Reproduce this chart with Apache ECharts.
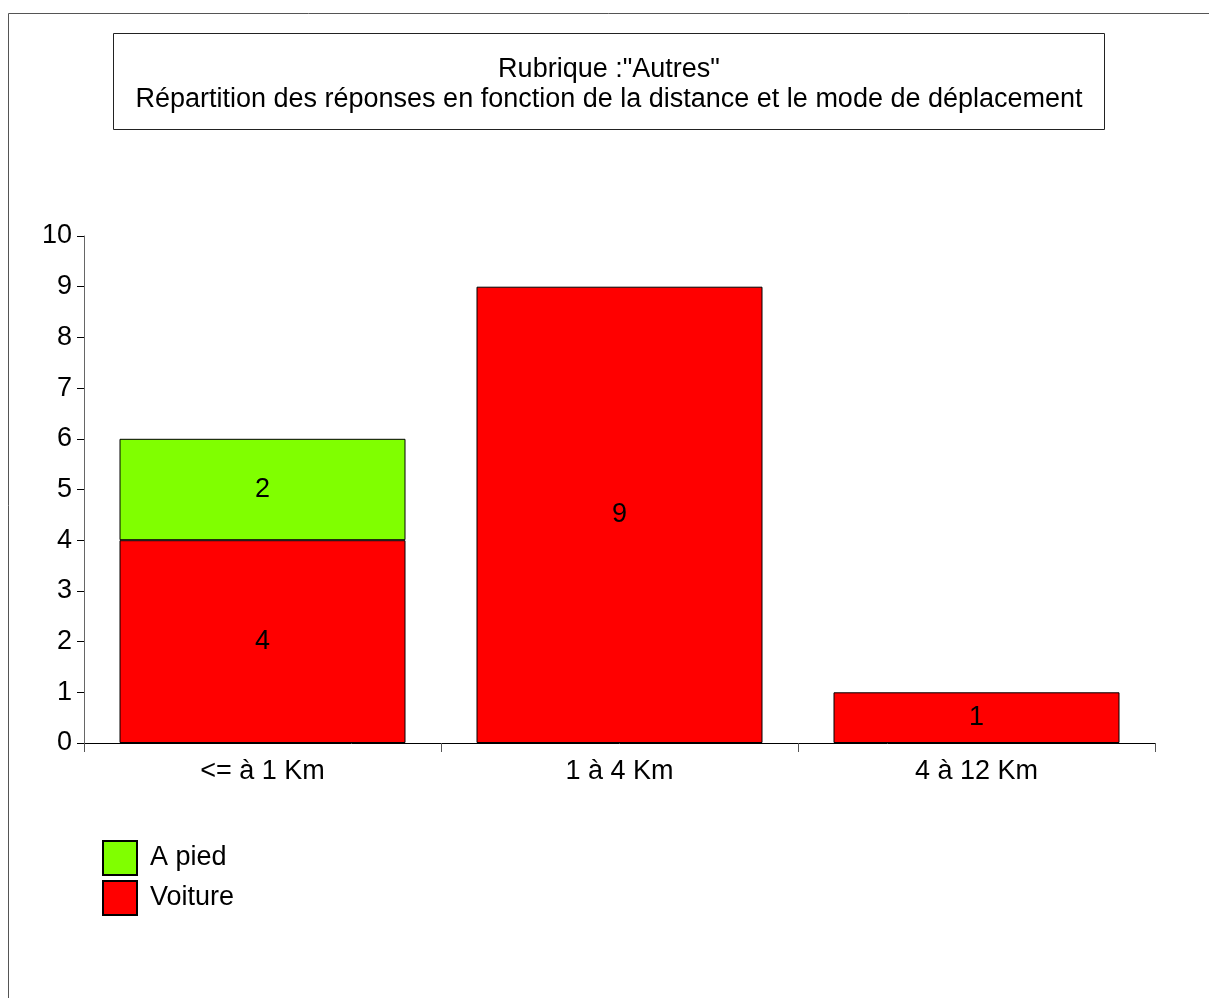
<!DOCTYPE html>
<html>
<head>
<meta charset="utf-8">
<script src="https://cdn.jsdelivr.net/npm/echarts@6/dist/echarts.min.js"></script>
<style>
html,body{margin:0;padding:0;background:#fff;}
#chart{width:1209px;height:998px;}
</style>
</head>
<body>
<div id="chart"></div>
<script>
const categories = ['<= à 1 Km', '1 à 4 Km', '4 à 12 Km'];
const voiture = [4, 9, 1];
const aPied = [2, null, null];
const yTicks = { min: 0, max: 10, interval: 1 };
const titleLines = ['Rubrique :"Autres"', 'Répartition des réponses en fonction de la distance et le mode de déplacement'];

const FONT = '"Liberation Sans", Arial, sans-serif';
const FS = 27;
const chart = echarts.init(document.getElementById('chart'));
chart.setOption({
  animation: false,
  backgroundColor: '#fff',
  graphic: [
    { type: 'line', shape: { x1: 8.5, y1: 13.5, x2: 1209, y2: 13.5 }, style: { stroke: '#555', lineWidth: 1 } },
    { type: 'line', shape: { x1: 8.5, y1: 13.5, x2: 8.5, y2: 998 }, style: { stroke: '#555', lineWidth: 1 } },
    { type: 'rect', shape: { x: 113.5, y: 33.5, width: 991, height: 96 }, style: { fill: 'none', stroke: '#222', lineWidth: 1 } }
  ],
  title: {
    text: titleLines.join('\n'),
    left: 609, top: 55, textAlign: 'center', padding: 0,
    textStyle: { fontFamily: FONT, fontSize: FS, fontWeight: 'normal', color: '#000', lineHeight: 30, align: 'center' }
  },
  legend: {
    data: ['A pied', 'Voiture'],
    orient: 'vertical',
    left: 97, top: 835,
    itemWidth: 34, itemHeight: 34, itemGap: 4,
    icon: 'rect',
    textStyle: { fontFamily: FONT, fontSize: FS, color: '#000', lineHeight: 34, padding: [0, 0, 0, 8] }
  },
  grid: { left: 84, right: 54, top: 236, bottom: 255, containLabel: false },
  xAxis: {
    type: 'category',
    data: categories,
    axisLine: { show: true, lineStyle: { color: '#000', width: 1 } },
    axisTick: { show: true, alignWithLabel: false, length: 9, lineStyle: { color: '#555' } },
    axisLabel: { fontFamily: FONT, fontSize: FS, color: '#000', margin: 15 },
    splitLine: { show: false }
  },
  yAxis: {
    type: 'value',
    min: yTicks.min, max: yTicks.max, interval: yTicks.interval,
    axisLine: { show: true, lineStyle: { color: '#666', width: 1 } },
    axisTick: { show: true, length: 7, lineStyle: { color: '#000' } },
    axisLabel: { fontFamily: FONT, fontSize: FS, color: '#000', margin: 12, padding: [4, 0, 0, 0] },
    splitLine: { show: false }
  },
  series: [
    {
      name: 'Voiture', type: 'bar', stack: 'total', data: voiture,
      barWidth: 286,
      itemStyle: { color: '#ff0000', borderColor: '#000', borderWidth: 1 },
      label: { show: true, position: 'inside', fontFamily: FONT, fontSize: FS, color: '#000', padding: [4, 0, 0, 0] }
    },
    {
      name: 'A pied', type: 'bar', stack: 'total', data: aPied,
      barWidth: 286,
      itemStyle: { color: '#80ff00', borderColor: '#000', borderWidth: 1 },
      label: { show: true, position: 'inside', fontFamily: FONT, fontSize: FS, color: '#000', padding: [4, 0, 0, 0] }
    }
  ]
});
</script>
</body>
</html>
